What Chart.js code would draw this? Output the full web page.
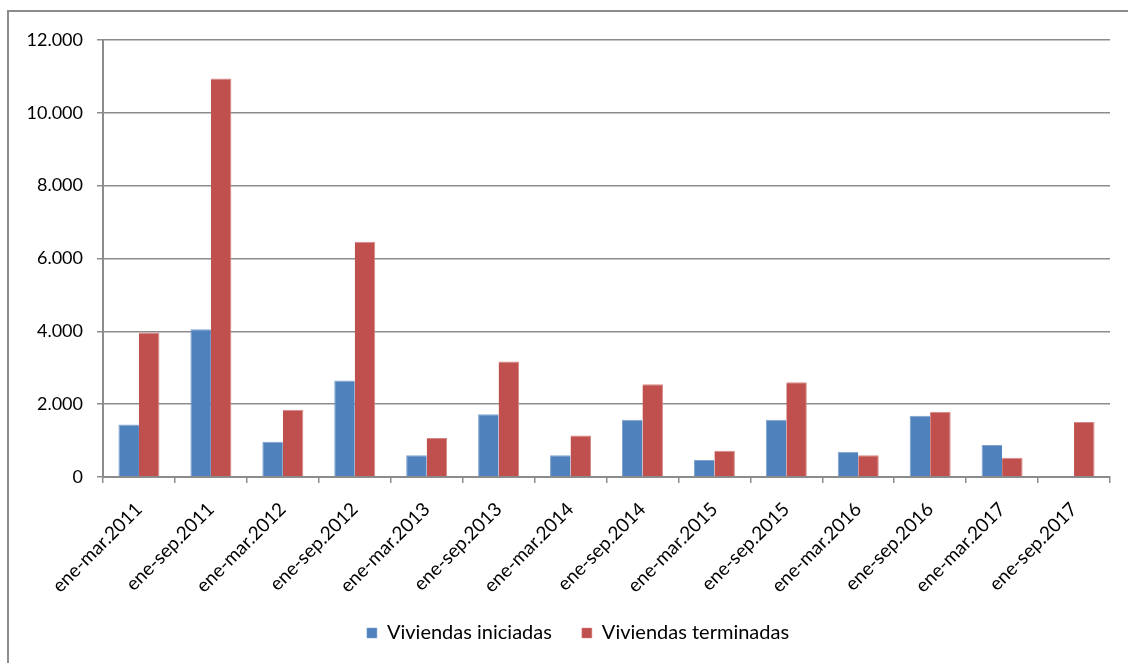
<!DOCTYPE html>
<html>
<head>
<meta charset="utf-8">
<script src="https://cdn.jsdelivr.net/npm/chart.js@4.4.0/dist/chart.umd.min.js"></script>
<style>
    html, body { margin: 0; padding: 0; background: #fff; }
    #frame { position: absolute; left: 7px; top: 10px; width: 1140px; height: 680px; border: 2px solid #8c8c8c; }
    #wrap { position: absolute; left: 0; top: 0; width: 1128px; height: 663px; }
</style>
</head>
<body>
<div id="frame"></div>
<div id="wrap"><canvas id="chart"></canvas></div>
<script>
const periods = ['ene-mar.2011', 'ene-sep.2011', 'ene-mar.2012', 'ene-sep.2012', 'ene-mar.2013', 'ene-sep.2013',
    'ene-mar.2014', 'ene-sep.2014', 'ene-mar.2015', 'ene-sep.2015', 'ene-mar.2016', 'ene-sep.2016',
    'ene-mar.2017', 'ene-sep.2017'];
const iniciadas = [1440, 4060, 970, 2650, 600, 1720, 600, 1570, 470, 1570, 690, 1680, 880, null];
const terminadas = [3970, 10940, 1850, 6460, 1070, 3170, 1140, 2550, 720, 2600, 600, 1790, 530, 1510];
const yMax = 12000;
const yStep = 2000;

const gray = '#8c8c8c';
const fontFamily = 'Lato, "Open Sans", sans-serif';

// miles con punto, como en el original
function fmt(v) {
    return String(v).replace(/\B(?=(\d{3})+(?!\d))/g, '.');
}

// la leyenda queda un poco a la izquierda por el padding final, la muevo
const legendShift = {
    id: 'legendShift',
    afterLayout(chart) {
        chart.legend.left += 18;
        chart.legend.right += 18;
    }
};

const ctx = document.getElementById('chart').getContext('2d');
new Chart(ctx, {
    type: 'bar',
    data: {
        labels: periods,
        datasets: [{
            label: 'Viviendas iniciadas',
            data: iniciadas,
            backgroundColor: '#4f81bd',
            borderColor: '#7fa3cf',
            borderWidth: { top: 1, left: 1, right: 0, bottom: 0 },
            barPercentage: 1,
            categoryPercentage: 0.57
        }, {
            label: 'Viviendas terminadas',
            data: terminadas,
            backgroundColor: '#c0504d',
            borderColor: '#d68886',
            borderWidth: { top: 1, left: 0, right: 1, bottom: 0 },
            barPercentage: 1,
            categoryPercentage: 0.57
        }]
    },
    options: {
        responsive: true,
        maintainAspectRatio: false,
        animation: false,
        layout: {
            padding: { left: 10, top: 40, right: 18, bottom: 10 }
        },
        plugins: {
            legend: {
                position: 'bottom',
                // padding 30 separa los items; maxHeight acorta la caja
                maxHeight: 60,
                labels: {
                    boxWidth: 10,
                    boxHeight: 10,
                    padding: 30,
                    color: '#000',
                    font: { family: fontFamily, size: 20 }
                }
            },
            tooltip: { enabled: false }
        },
        scales: {
            x: {
                grid: {
                    display: true,
                    drawOnChartArea: false,
                    drawTicks: true,
                    tickLength: 6,
                    offset: true,
                    color: gray,
                    lineWidth: 1.5
                },
                border: { color: gray, width: 2 },
                ticks: {
                    minRotation: 45,
                    maxRotation: 45,
                    autoSkip: false,
                    padding: 15,
                    color: '#000',
                    font: { family: fontFamily, size: 19 }
                },
                afterFit: function (scale) { scale.height = 116; }
            },
            y: {
                min: 0,
                max: yMax,
                grid: {
                    color: gray,
                    lineWidth: 1.5,
                    drawTicks: true,
                    tickLength: 6
                },
                border: { color: gray, width: 2 },
                ticks: {
                    stepSize: yStep,
                    padding: 14,
                    color: '#000',
                    font: { family: fontFamily, size: 18 },
                    callback: function (v) { return fmt(v); }
                },
                afterFit: function (scale) { scale.width = 93; }
            }
        }
    },
    plugins: [legendShift]
});
</script>
</body>
</html>
